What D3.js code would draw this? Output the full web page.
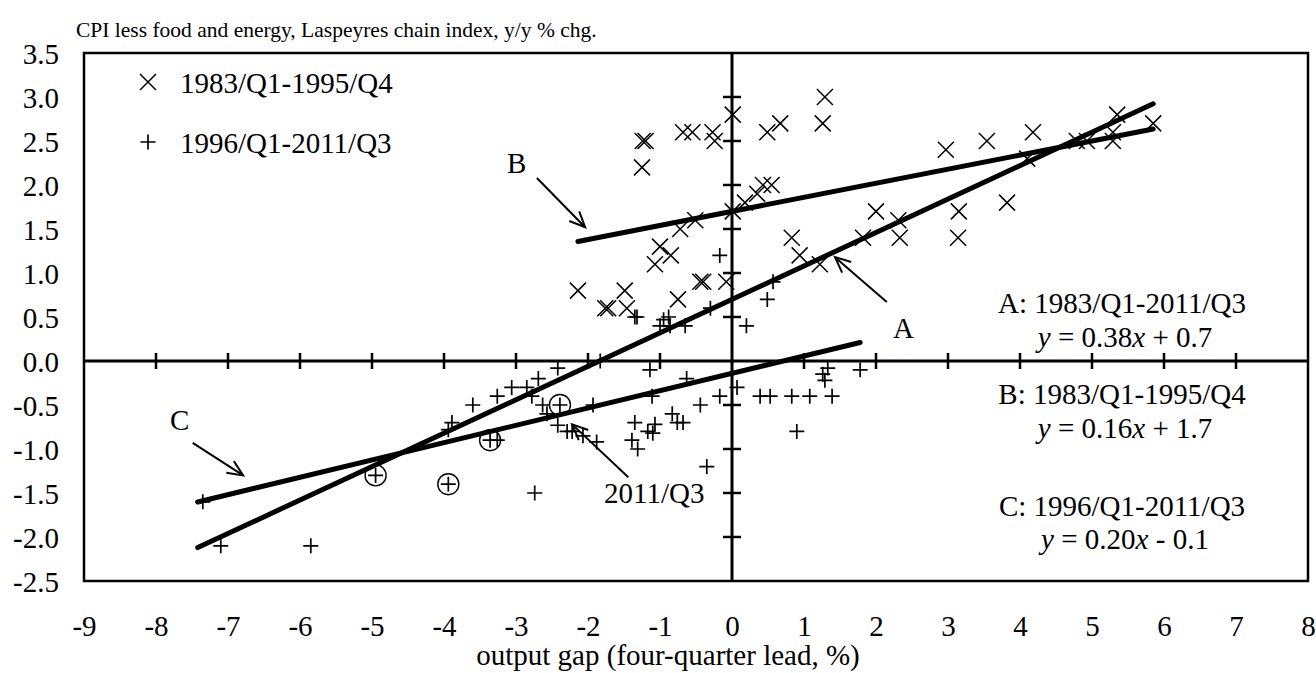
<!DOCTYPE html>
<html><head><meta charset="utf-8">
<script src="https://cdn.jsdelivr.net/npm/d3@7"></script>
<style>body{margin:0;background:#fff}svg{display:block}text{font-family:"Liberation Serif","Times New Roman",serif;fill:#000}</style>
</head><body>
<script>
// Data
const xTicks = [-9,-8,-7,-6,-5,-4,-3,-2,-1,0,1,2,3,4,5,6,7,8];
const yTicks = [-2.5,-2.0,-1.5,-1.0,-0.5,0.0,0.5,1.0,1.5,2.0,2.5,3.0,3.5];
const series1Name = "1983/Q1-1995/Q4";
const series2Name = "1996/Q1-2011/Q3";
const series1 = [
 [-1.24,2.5],[-1.20,2.5],[-1.25,2.2],[-0.68,2.6],[-0.55,2.6],[-0.27,2.6],[-0.24,2.5],[0.01,2.8],
 [0.49,2.6],[0.67,2.7],[1.29,3.0],[1.26,2.7],[0.01,1.7],[0.18,1.8],[0.35,1.9],[0.43,2.0],[0.55,2.0],
 [-0.51,1.6],[-0.72,1.5],[0.83,1.4],[-1.0,1.3],[-1.07,1.1],[-0.85,1.2],[-2.14,0.8],[-1.76,0.6],
 [-1.72,0.6],[-1.49,0.8],[-1.46,0.6],[-0.75,0.7],[-0.44,0.9],[-0.40,0.9],[-0.08,0.9],[0.94,1.2],
 [1.22,1.1],[2.0,1.7],[1.82,1.4],[2.33,1.4],[2.31,1.6],[3.15,1.7],[3.14,1.4],[3.82,1.8],[2.97,2.4],
 [3.54,2.5],[4.18,2.6],[4.1,2.3],[4.79,2.5],[4.93,2.5],[5.29,2.5],[5.29,2.6],[5.35,2.8],[5.85,2.7]
];
const series2 = [
 [-0.17,1.2],[0.57,0.9],[0.49,0.7],[-0.3,0.6],[-1.35,0.5],[-1.32,0.5],[-0.95,0.47],[-0.88,0.5],
 [-1.0,0.4],[-0.86,0.4],[-0.65,0.4],[0.2,0.4],[-1.83,0.0],[-1.14,-0.1],[-0.63,-0.2],[0.07,-0.3],
 [-0.17,-0.4],[-0.44,-0.5],[0.39,-0.4],[0.53,-0.4],[0.83,-0.4],[1.08,-0.4],[1.39,-0.4],[1.26,-0.15],
 [1.29,-0.22],[1.33,-0.08],[1.78,-0.1],[0.9,-0.8],[-1.11,-0.4],[-1.35,-0.7],[-0.83,-0.6],[-0.76,-0.7],
 [-0.68,-0.7],[-1.07,-0.72],[-1.17,-0.8],[-1.1,-0.82],[-1.39,-0.9],[-1.31,-1.0],[-0.35,-1.2],
 [-2.42,-0.08],[-2.69,-0.2],[-3.06,-0.3],[-2.85,-0.3],[-3.26,-0.4],[-2.78,-0.4],[-3.6,-0.5],
 [-2.63,-0.5],[-2.39,-0.5],[-2.57,-0.6],[-1.93,-0.5],[-3.89,-0.7],[-3.94,-0.78],[-2.42,-0.73],
 [-2.29,-0.8],[-2.22,-0.8],[-2.07,-0.85],[-1.88,-0.92],[-3.36,-0.9],[-3.26,-0.9],[-3.94,-1.4],
 [-2.74,-1.5],[-4.95,-1.3],[-7.35,-1.6],[-7.1,-2.1],[-5.85,-2.1]
];
// latest four quarters (circled)
const circled = [[-4.95,-1.3],[-3.94,-1.4],[-3.36,-0.9],[-2.39,-0.5]];
// fitted lines: slope, intercept, x range
const fitNames = ["A","B","C"];
const fitSlopes = [0.38,0.16,0.197];
const fitIntercepts = [0.70,1.70,-0.14];
const fitXFrom = [-7.42,-2.14,-7.42];
const fitXTo = [5.85,5.85,1.78];
const fitLabels = [["A: 1983/Q1-2011/Q3","0.38","+ 0.7"],["B: 1983/Q1-1995/Q4","0.16","+ 1.7"],["C: 1996/Q1-2011/Q3","0.20","- 0.1"]];
const titleText = "CPI less food and energy, Laspeyres chain index, y/y % chg.";
const xLabel = "output gap (four-quarter lead, %)";

const W=1316,H=673;
const svg=d3.select("body").append("svg").attr("width",W).attr("height",H);
const x=d3.scaleLinear().domain([-9,8]).range([84,1308]);
const y=d3.scaleLinear().domain([-2.5,3.5]).range([581,53]);
const FS=29;
const hy=f=>d=>f(d).replace("\u2212","-");

svg.append("text").attr("x",76).attr("y",37).attr("font-size",21.5).text(titleText);

// axes labels
const gx=svg.append("g").attr("transform","translate(0,612)")
  .call(d3.axisBottom(x).tickValues(xTicks).tickSize(0).tickFormat(hy(d3.format("d"))));
gx.select(".domain").remove();
gx.selectAll("text").attr("font-size",FS).attr("font-family","Liberation Serif").attr("fill","#000");
const gy=svg.append("g").attr("transform","translate(59,0)")
  .call(d3.axisLeft(y).tickValues(yTicks).tickSize(0).tickFormat(hy(d3.format(".1f"))));
gy.select(".domain").remove();
gy.selectAll("text").attr("font-size",FS).attr("font-family","Liberation Serif").attr("fill","#000").attr("x",0).attr("dy","0.35em");

svg.append("text").attr("x",668).attr("y",665).attr("text-anchor","middle").attr("font-size",FS).text(xLabel);

// frame
svg.append("rect").attr("x",x(-9)).attr("y",y(3.5)).attr("width",x(8)-x(-9)).attr("height",y(-2.5)-y(3.5))
  .attr("fill","none").attr("stroke","#000").attr("stroke-width",2.5);

// crosshair axes
svg.append("line").attr("x1",x(-9)).attr("x2",x(8)).attr("y1",y(0)).attr("y2",y(0)).attr("stroke","#000").attr("stroke-width",3);
svg.append("line").attr("x1",x(0)).attr("x2",x(0)).attr("y1",y(3.5)).attr("y2",y(-2.5)).attr("stroke","#000").attr("stroke-width",3);
svg.append("g").selectAll("line").data(xTicks.filter(d=>d>-9&&d<8&&d!==0)).join("line")
  .attr("x1",d=>x(d)).attr("x2",d=>x(d)).attr("y1",y(0)-8).attr("y2",y(0)+8).attr("stroke","#000").attr("stroke-width",2.5);
svg.append("g").selectAll("line").data(yTicks.filter(d=>d>-2.5&&d<3.5&&d!==0)).join("line")
  .attr("x1",x(0)-9).attr("x2",x(0)+9).attr("y1",d=>y(d)).attr("y2",d=>y(d)).attr("stroke","#000").attr("stroke-width",2.5);

// markers
const cross=s=>`M${-s},${-s}L${s},${s}M${-s},${s}L${s},${-s}`;
const plus=s=>`M${-s},0L${s},0M0,${-s}L0,${s}`;
svg.append("g").selectAll("path").data(series1).join("path")
  .attr("transform",d=>`translate(${x(d[0])},${y(d[1])})`).attr("d",cross(8))
  .attr("stroke","#000").attr("stroke-width",1.5).attr("fill","none");
svg.append("g").selectAll("path").data(series2).join("path")
  .attr("transform",d=>`translate(${x(d[0])},${y(d[1])})`).attr("d",plus(7.5))
  .attr("stroke","#000").attr("stroke-width",1.7).attr("fill","none");
svg.append("g").selectAll("circle").data(circled).join("circle")
  .attr("cx",d=>x(d[0])).attr("cy",d=>y(d[1])).attr("r",10.5)
  .attr("stroke","#000").attr("stroke-width",1.4).attr("fill","none");

// fit lines
svg.append("g").selectAll("line").data(fitNames).join("line")
  .attr("x1",(d,i)=>x(fitXFrom[i])).attr("y1",(d,i)=>y(fitSlopes[i]*fitXFrom[i]+fitIntercepts[i]))
  .attr("x2",(d,i)=>x(fitXTo[i])).attr("y2",(d,i)=>y(fitSlopes[i]*fitXTo[i]+fitIntercepts[i]))
  .attr("stroke","#000").attr("stroke-width",5).attr("stroke-linecap","round");

// legend
svg.append("path").attr("transform","translate(148,82)").attr("d",cross(8)).attr("stroke","#000").attr("stroke-width",1.5);
svg.append("path").attr("transform","translate(148,142)").attr("d",plus(7.5)).attr("stroke","#000").attr("stroke-width",1.7);
svg.append("text").attr("x",180).attr("y",93).attr("font-size",FS).text(series1Name);
svg.append("text").attr("x",180).attr("y",153).attr("font-size",FS).text(series2Name);

// annotations: arrows with open heads
function arrow(x1,y1,x2,y2){
  const g=svg.append("g").attr("stroke","#000").attr("stroke-width",2).attr("fill","none");
  g.append("line").attr("x1",x(x1)).attr("y1",y(y1)).attr("x2",x(x2)).attr("y2",y(y2));
  const a=Math.atan2(y(y2)-y(y1),x(x2)-x(x1)), L=17, sp=0.42;
  const px=x(x2),py=y(y2);
  g.append("path").attr("d",`M${px-L*Math.cos(a-sp)},${py-L*Math.sin(a-sp)}L${px},${py}L${px-L*Math.cos(a+sp)},${py-L*Math.sin(a+sp)}`);
}
arrow(-2.71,2.08,-2.04,1.52);
arrow(2.15,0.67,1.43,1.18);
arrow(-7.49,-0.93,-6.79,-1.30);
arrow(-1.44,-1.32,-2.22,-0.72);
const ann=[["B",-2.99,2.25],["A",2.38,0.375],["C",-7.67,-0.67],["2011/Q3",-1.08,-1.5]];
svg.append("g").selectAll("text").data(ann).join("text")
  .attr("x",d=>x(d[1])).attr("y",d=>y(d[2])).attr("dy","0.35em").attr("text-anchor","middle").attr("font-size",FS).text(d=>d[0]);

// equation block
const eqY=[0.66,0.27,-0.37,-0.76,-1.65,-2.02];
fitLabels.forEach((f,i)=>{
  svg.append("text").attr("x",1122).attr("y",y(eqY[2*i])).attr("dy","0.35em").attr("text-anchor","middle").attr("font-size",FS).text(f[0]);
  const t=svg.append("text").attr("x",1125).attr("y",y(eqY[2*i+1])).attr("dy","0.35em").attr("text-anchor","middle").attr("font-size",FS);
  t.append("tspan").attr("font-style","italic").text("y");
  t.append("tspan").text(" = "+f[1]);
  t.append("tspan").attr("font-style","italic").text("x");
  t.append("tspan").text(" "+f[2]);
});
</script>
</body></html>
